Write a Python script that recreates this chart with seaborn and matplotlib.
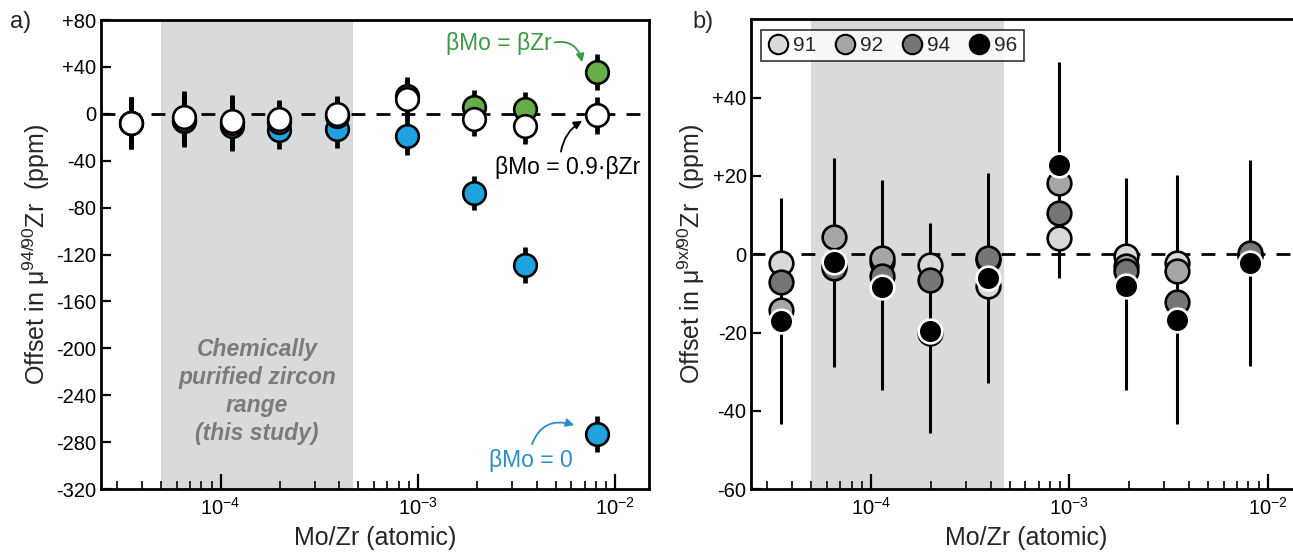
import numpy as np
import pandas as pd
import matplotlib
matplotlib.use("Agg")
import matplotlib.pyplot as plt
import seaborn as sns
from matplotlib.lines import Line2D
from matplotlib.ticker import FuncFormatter, FixedLocator, LogLocator, NullFormatter

# ---------------- data ----------------
mo_zr = [3.5e-5, 6.5e-5, 1.14e-4, 1.97e-4, 3.9e-4, 8.85e-4, 1.92e-3, 3.5e-3, 8.1e-3]

# panel a: offset in mu94/90Zr (ppm) for three mass-bias assumptions
beta_zero = [-8.0, -6.0, -10.4, -13.8, -13.2, -18.7, -67.6, -129.0, -273.0]
beta_equal = [-8.0, -5.0, -8.0, -7.0, -2.0, 15.0, 6.0, 4.0, 35.7]
beta_09 = [-7.5, -2.3, -5.8, -4.6, -0.5, 12.7, -4.3, -10.4, -1.4]
err_a = [22, 22, 21.5, 16, 16, 16.5, 14.5, 15, 15.5]

# panel b: offsets in mu9x/90Zr (ppm)
iso_labels = ["91", "92", "94", "96"]
iso91 = [-2.3, -3.0, -2.0, -2.7, -8.0, 4.1, -0.5, -2.2, -0.3]
iso92 = [-14.2, 4.3, -1.0, -20.0, -1.5, 18.3, -3.0, -4.3, -0.5]
iso94 = [-7.2, -3.5, -5.5, -6.5, -1.0, 10.5, -4.2, -12.3, 0.3]
iso96 = [-17.0, -1.9, -8.3, -19.5, -6.0, 22.8, -8.1, -16.9, -2.3]
bar_top = [14.5, 24.7, 19.0, 8.1, 20.7, 49.2, 19.6, 20.3, 24.2]
bar_bottom = [-43.3, -28.7, -34.8, -45.7, -32.9, -6.1, -34.8, -43.5, -28.6]

shade_range = [5.0e-5, 4.7e-4]
xlim = [2.47e-5, 1.49e-2]
yticks_a = [80, 40, 0, -40, -80, -120, -160, -200, -240, -280, -320]
yticks_b = [40, 20, 0, -20, -40, -60]

# ---------------- style ----------------
sns.set_theme(style="ticks")
plt.rcParams["font.family"] = ["Liberation Sans", "DejaVu Sans"]
plt.rcParams["mathtext.fontset"] = "custom"
plt.rcParams["mathtext.rm"] = "Liberation Sans"
plt.rcParams["mathtext.it"] = "Liberation Sans:italic"
plt.rcParams["mathtext.bf"] = "Liberation Sans:bold"
plt.rcParams["axes.unicode_minus"] = False

BLUE = "#1fa3e0"
GREEN = "#66ad47"
GREEN_TXT = "#3c9a43"
BLUE_TXT = "#2d8ccc"
SHADE = "#d9dadc"
GREYS = ["#d9d9d9", "#a6a6a6", "#767676", "#000000"]

fig = plt.figure(figsize=(12.93, 5.52), dpi=100)
axA = fig.add_axes([0.0779, 0.1141, 0.4243, 0.8496])
axB = fig.add_axes([0.5806, 0.1141, 0.4264, 0.8506])

def pm(v, pos=None):
    return f"+{v:.0f}" if v > 0 else f"{v:.0f}"

for ax in (axA, axB):
    ax.set_xscale("log")
    ax.set_xlim(*xlim)
    ax.axvspan(shade_range[0], shade_range[1], color=SHADE, lw=0, zorder=0)
    ax.axhline(0, color="black", lw=2.0, dashes=(5, 4), zorder=1)
    for s in ax.spines.values():
        s.set_linewidth(2.0)
        s.set_color("black")
    ax.tick_params(axis="x", which="major", direction="in", length=11, width=1.6,
                   labelsize=14.5, pad=6, colors="black")
    ax.tick_params(axis="x", which="minor", direction="in", length=5.5, width=1.4)
    ax.tick_params(axis="y", which="major", direction="in", length=7, width=1.6,
                   labelsize=14.5, pad=3, colors="black")
    ax.xaxis.set_major_locator(LogLocator(base=10, numticks=10))
    ax.xaxis.set_minor_locator(LogLocator(base=10, subs=np.arange(2, 10), numticks=20))
    ax.xaxis.set_minor_formatter(NullFormatter())
    ax.set_xlabel("Mo/Zr (atomic)", fontsize=18, labelpad=5)

# ---------------- panel a ----------------
axA.set_ylim(-320, 80)
axA.yaxis.set_major_locator(FixedLocator(yticks_a))
axA.yaxis.set_major_formatter(FuncFormatter(pm))

for vals in (beta_zero, beta_equal, beta_09):
    axA.errorbar(mo_zr, vals, yerr=err_a, fmt="none", ecolor="black",
                 elinewidth=3.4, capsize=0, zorder=2)

for vals, col, z in ((beta_zero, BLUE, 3), (beta_equal, GREEN, 4), (beta_09, "white", 5)):
    sns.scatterplot(x=mo_zr, y=vals, ax=axA, color=col, edgecolor="black",
                    linewidth=1.9, s=265, zorder=z, legend=False)

axA.set_ylabel("Offset in μ$^{\\mathrm{94/90}}$Zr  (ppm)", fontsize=18)
axA.yaxis.set_label_coords(-0.088, 0.5)

axA.text(1.53e-4, -237, "Chemically\npurified zircon\nrange\n(this study)",
         ha="center", va="center", fontsize=16.5, fontweight="bold",
         fontstyle="italic", color="#7b7b7b", linespacing=1.28, zorder=1)

axA.annotate("βMo = βZr", xy=(6.8e-3, 44), xytext=(4.75e-3, 60.4),
             ha="right", va="center", fontsize=16.5, color=GREEN_TXT,
             arrowprops=dict(arrowstyle="-|>", color=GREEN_TXT, lw=1.3,
                             mutation_scale=12, relpos=(1.0, 0.5),
                             shrinkA=0, shrinkB=0,
                             connectionstyle="arc3,rad=-0.5"))
axA.annotate("βMo = 0.9·βZr", xy=(6.8e-3, -6), xytext=(5.74e-3, -46),
             ha="center", va="center", fontsize=16.5, color="black",
             arrowprops=dict(arrowstyle="-|>", color="black", lw=1.3,
                             mutation_scale=12, relpos=(0.45, 1.0),
                             shrinkA=1, shrinkB=0,
                             connectionstyle="arc3,rad=-0.25"))
axA.annotate("βMo = 0", xy=(6.2e-3, -265.5), xytext=(3.72e-3, -295.5),
             ha="center", va="center", fontsize=16.5, color=BLUE_TXT,
             arrowprops=dict(arrowstyle="-|>", color=BLUE_TXT, lw=1.3,
                             mutation_scale=12, relpos=(0.5, 1.0),
                             shrinkA=1, shrinkB=0,
                             connectionstyle="arc3,rad=-0.5"))

# ---------------- panel b ----------------
axB.set_ylim(-60, 60)
axB.yaxis.set_major_locator(FixedLocator(yticks_b))
axB.yaxis.set_major_formatter(FuncFormatter(pm))
axB.vlines(mo_zr, bar_bottom, bar_top, color="black", lw=2.2, zorder=2)

iso_vals = [iso91, iso92, iso94, iso96]
edges = ["black", "black", "black", "white"]
for i, (vals, col, ec) in enumerate(zip(iso_vals, GREYS, edges)):
    sns.scatterplot(x=mo_zr, y=vals, ax=axB, color=col, edgecolor=ec,
                    linewidth=1.9, s=290, zorder=3 + i, legend=False)

axB.set_ylabel("Offset in μ$^{\\mathrm{9x/90}}$Zr  (ppm)", fontsize=18)
axB.yaxis.set_label_coords(-0.079, 0.5)

handles = [Line2D([], [], ls="", marker="o", markersize=14, markerfacecolor=c,
                  markeredgecolor="black", markeredgewidth=1.5) for c in GREYS]
leg = axB.legend(handles, iso_labels, loc="upper left", ncol=4, fontsize=15,
                 frameon=True, fancybox=False, handlelength=1.0,
                 handletextpad=0.25, columnspacing=0.85, borderpad=0.3,
                 borderaxespad=0.5)
leg.get_frame().set_edgecolor("black")
leg.get_frame().set_linewidth(1.2)
leg.set_zorder(10)

fig.text(10 / 1293, 1 - 22 / 552, "a)", fontsize=17, ha="left", va="center")
fig.text(692 / 1293, 1 - 22 / 552, "b)", fontsize=17, ha="left", va="center")

fig.savefig("out.png", dpi=100)
